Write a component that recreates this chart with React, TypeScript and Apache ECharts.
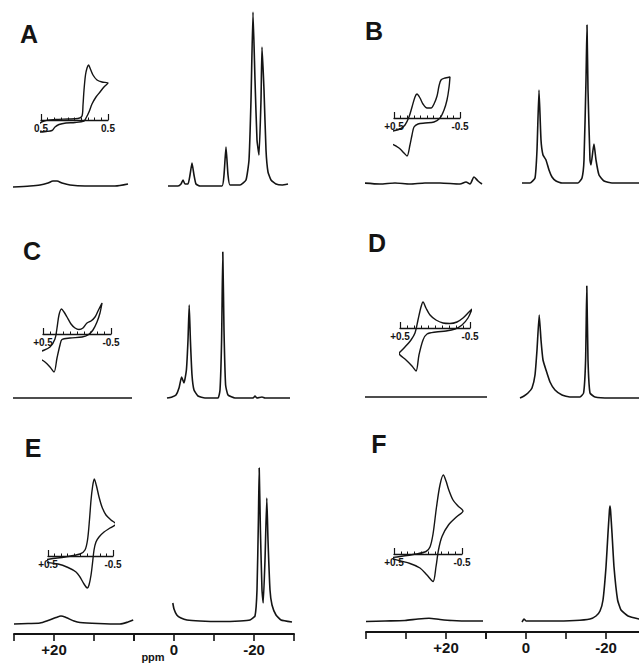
import React, { useEffect, useRef } from "react";
import * as echarts from "echarts";

const FONT = '"Liberation Sans", Arial, Helvetica, sans-serif';
const INK = "#141414";

// ---- 1H NMR spectra: [ppm, intensity (arb.)] ----
// left (downfield) segments
const specA_left = [[30.5, -1], [26, 0], [23.5, 1], [21.5, 3], [20.25, 5], [19.25, 5], [18, 3], [16, 1], [12.25, 0], [8.5, 0], [4.75, 0], [1.5, 2]];
const specB_left = [[40.75, 0], [36.5, -1], [32.75, 0], [29, -1], [25.25, 0], [21.5, 0], [16.5, -1], [15, 1], [14, -1], [13, 6], [12, 2], [11, -1]];
const specC_left = [[30.5, 0], [20, 0], [10, 0], [0.5, 0]];
const specD_left = [[40.75, 1], [31.5, 1], [21.5, 1], [9.75, 1]];
const specE_left = [[30, -2], [26.5, -1.5], [23.5, -1], [21.5, 1.5], [19.5, 4.5], [18.25, 6], [17, 4.5], [15, 1], [13.5, -0.5], [9, -1.5], [3.5, -2], [1.5, 0], [0.2, 2]];
const specF_left = [[40, -0.5], [35.25, 0], [30.25, 0.5], [27, 2], [24.25, 2.7], [21.5, 1.5], [18.5, 0.5], [14, 0], [10.75, 0]];

// right (upfield) segments
const specA_right = [[1.5, 0], [-1, 0], [-1.75, 2], [-2.25, 6], [-2.75, 2], [-3.5, 2], [-4, 11], [-4.5, 23], [-5, 11], [-5.5, 2], [-6.5, 0], [-12, 0], [-12.5, 11], [-13, 39], [-13.5, 11], [-14, 1], [-16.5, 1], [-18, 6], [-18.75, 26], [-19.25, 86], [-19.75, 174], [-20.25, 106], [-20.75, 46], [-21.25, 31], [-21.75, 86], [-22, 139], [-22.5, 96], [-23, 36], [-23.5, 14], [-24.25, 6], [-25.5, 2], [-27, 1], [-28.5, 2]];
const specB_right = [[1, 0], [-1, 0], [-2.25, 5], [-2.75, 33], [-3.25, 93], [-3.75, 43], [-4.25, 28], [-5, 23], [-5.75, 13], [-6.5, 6], [-7.5, 2], [-9, 0], [-13, 0], [-14, 5], [-14.5, 23], [-15, 103], [-15.25, 158], [-15.5, 93], [-16, 23], [-16.25, 18], [-16.75, 33], [-17, 39], [-17.5, 23], [-18.25, 8], [-19.5, 2], [-21.5, 0], [-30, 0]];
const specC_right = [[1.75, 0], [0.5, 1], [-0.5, 3], [-1.25, 10], [-1.9, 21], [-2.5, 15], [-3.1, 28], [-3.5, 58], [-3.8, 93], [-4.1, 58], [-4.5, 23], [-5, 8], [-6, 2], [-7.75, 0], [-11, 0], [-11.5, 8], [-11.9, 58], [-12.2, 146], [-12.5, 68], [-12.9, 13], [-13.5, 3], [-15.25, 0], [-19.75, 0], [-20.25, 2], [-20.75, 0], [-22, 1], [-22.75, 0], [-29, 0]];
const specD_right = [[1.5, 0], [0.5, 2], [-0.5, 5], [-1.5, 10], [-2.25, 23], [-2.75, 48], [-3.3, 83], [-3.75, 58], [-4.25, 38], [-5, 28], [-6, 16], [-7.25, 8], [-9, 3], [-11, 1], [-13.5, 1], [-14.4, 5], [-14.9, 38], [-15.2, 112], [-15.5, 38], [-16, 5], [-17.25, 1], [-21, 0], [-30, 0]];
const specE_right = [[0.3, 19], [0, 13], [-0.7, 7], [-1.75, 4], [-3.25, 2], [-6.5, 1], [-11.5, 0.5], [-16.5, 1], [-19, 2], [-20.25, 6], [-20.75, 32], [-21.1, 102], [-21.3, 154], [-21.6, 92], [-22, 32], [-22.3, 19], [-22.75, 62], [-23.2, 124], [-23.5, 82], [-24, 32], [-24.5, 17], [-25.5, 7], [-26.75, 2], [-29.5, 0]];
const specF_right = [[1, -1], [0.5, 2], [0, 0], [-6, 0], [-12.25, 0.5], [-16, 2], [-17.5, 5], [-18.5, 10], [-19.25, 21], [-20, 54], [-20.5, 88], [-20.85, 110], [-21, 115], [-21.15, 110], [-21.5, 88], [-22, 54], [-22.9, 21], [-23.75, 11], [-25.5, 5], [-28.25, 2], [-30, 1]];

// ---- cyclic voltammograms (inset): [E (V), current (arb.)] ----
const cvA = [[0.575, -1.2], [0.545, -0.5], [0.455, -0.1], [0.291, 0.05], [0.097, 0.1], [-0.052, 0.15], [-0.112, 0.4], [-0.127, 1.5], [-0.142, 3.0], [-0.164, 4.5], [-0.187, 5.2], [-0.209, 5.5], [-0.231, 5.2], [-0.276, 4.5], [-0.336, 4.0], [-0.41, 3.8], [-0.5, 3.7], [-0.44, 3.3], [-0.381, 2.8], [-0.321, 2.3], [-0.261, 1.6], [-0.216, 0.8], [-0.172, 0.2], [-0.142, -0.1], [-0.007, -0.25], [0.127, -0.3], [0.231, -0.45], [0.291, -0.7], [0.336, -1.05], [0.425, -1.15], [0.515, -1.2], [0.575, -1.2]];
const cvB = [[0.636, -1.5], [0.515, -1.3], [0.409, -1.1], [0.333, -0.7], [0.273, 0.1], [0.227, 1.1], [0.182, 2.1], [0.152, 2.4], [0.106, 2.0], [0.061, 1.4], [0, 1.0], [-0.061, 1.0], [-0.106, 1.4], [-0.152, 2.2], [-0.182, 3.2], [-0.212, 3.8], [-0.273, 4.0], [-0.348, 4.1], [-0.333, 3.0], [-0.303, 1.8], [-0.258, 0.8], [-0.197, 0], [-0.106, -0.4], [0.03, -0.5], [0.136, -0.6], [0.197, -0.9], [0.227, -1.7], [0.258, -2.7], [0.303, -3.8], [0.348, -3.5], [0.424, -3.0], [0.53, -2.6], [0.621, -2.5], [0.636, -2.0], [0.636, -1.5]];
const cvC = [[0.662, -2.3], [0.544, -1.8], [0.397, -1.3], [0.324, -0.5], [0.294, 0.6], [0.265, 1.9], [0.228, 2.5], [0.191, 2.2], [0.147, 1.7], [0.088, 1.0], [0.029, 0.6], [-0.029, 0.45], [-0.088, 0.6], [-0.147, 1.1], [-0.206, 1.3], [-0.265, 1.7], [-0.309, 2.3], [-0.368, 3.1], [-0.338, 2.1], [-0.294, 1.2], [-0.235, 0.4], [-0.162, -0.1], [-0.074, -0.3], [0.103, -0.4], [0.221, -0.55], [0.25, -1.1], [0.294, -2.4], [0.338, -3.8], [0.397, -3.3], [0.471, -2.8], [0.574, -2.4], [0.662, -2.3]];
const cvD = [[0.514, -2.5], [0.429, -1.9], [0.343, -1.2], [0.286, -0.5], [0.243, 0.8], [0.2, 2.1], [0.171, 2.6], [0.129, 2.0], [0.071, 1.3], [-0.014, 0.8], [-0.114, 0.5], [-0.214, 0.45], [-0.314, 0.6], [-0.4, 1.0], [-0.471, 1.5], [-0.529, 1.9], [-0.471, 1.0], [-0.386, 0.3], [-0.286, -0.1], [-0.157, -0.3], [-0.014, -0.4], [0.114, -0.6], [0.171, -1.2], [0.229, -2.7], [0.271, -4.3], [0.329, -3.8], [0.414, -3.2], [0.5, -2.7], [0.514, -2.5]];
const cvE = [[0.7, -0.6], [0.469, -0.3], [0.238, -0.1], [0.008, 0.2], [-0.069, 0.6], [-0.108, 1.6], [-0.138, 3.6], [-0.162, 5.6], [-0.185, 6.9], [-0.212, 7.7], [-0.246, 7.0], [-0.285, 5.9], [-0.331, 4.9], [-0.392, 4.1], [-0.469, 3.6], [-0.546, 3.2], [-0.454, 2.8], [-0.362, 2.4], [-0.285, 1.9], [-0.238, 1.4], [-0.208, 0.6], [-0.185, -0.7], [-0.162, -1.9], [-0.131, -2.9], [-0.105, -3.2], [-0.054, -2.8], [0.008, -2.1], [0.069, -1.6], [0.192, -1.15], [0.346, -0.8], [0.546, -0.65], [0.7, -0.6]];
const cvF = [[0.603, -0.4], [0.412, -0.25], [0.176, 0], [0.029, 0.25], [-0.029, 0.7], [-0.074, 2.0], [-0.125, 4.7], [-0.176, 6.9], [-0.225, 7.9], [-0.265, 7.3], [-0.301, 6.5], [-0.368, 5.4], [-0.441, 4.8], [-0.515, 4.3], [-0.426, 3.75], [-0.301, 2.9], [-0.206, 1.75], [-0.154, 0.4], [-0.118, -1.25], [-0.074, -2.75], [0.015, -2.1], [0.118, -1.4], [0.265, -0.95], [0.485, -0.55], [0.603, -0.4]];

// ---- labels ----
const panelNames = ["A", "B", "C", "D", "E", "F"];
const cvEndLabels = [["0.5", "0.5"], ["+0.5", "-0.5"], ["+0.5", "-0.5"], ["+0.5", "-0.5"], ["+0.5", "-0.5"], ["+0.5", "-0.5"]];
const ppmLeftLabels: Record<string, string> = { "20": "+20" };
const ppmRightLabels: Record<string, string> = { "0": "0", "-20": "-20" };
const ppmUnit = "ppm";
const leftRanges = [[0, 30], [10, 40]];
const rightRange = [-30, 10];

const spectraLeft = [specA_left, specB_left, specC_left, specD_left, specE_left, specF_left];
const spectraRight = [specA_right, specB_right, specC_right, specD_right, specE_right, specF_right];
const cvs = [cvA, cvB, cvC, cvD, cvE, cvF];

// ---- layout (pixels) ----
const COLS = [
  { x0: 14, axisY: 634 },
  { x0: 366, axisY: 632 },
];
const SEG_L_W = 120;
const SEG_R_W = 160;
const SPEC_H = 180;
const PANELS = [
  { col: 0, base: 186, label: [29, 34], cv: { x0: 41, x1: 108, y0: 120 } },
  { col: 1, base: 183, label: [374, 31], cv: { x0: 394, x1: 460, y0: 118 } },
  { col: 0, base: 398, label: [32, 251], cv: { x0: 43, x1: 111, y0: 334 } },
  { col: 1, base: 398, label: [377, 243], cv: { x0: 400, x1: 470, y0: 328 } },
  { col: 0, base: 622, label: [33, 448], cv: { x0: 48, x1: 113, y0: 556 } },
  { col: 1, base: 621, label: [379, 444], cv: { x0: 394, x1: 462, y0: 554 } },
];

function near(a: number, b: number) {
  return Math.abs(a - b) < 1e-6;
}

function buildOption() {
  const grid: any[] = [];
  const xAxis: any[] = [];
  const yAxis: any[] = [];
  const series: any[] = [];
  const graphic: any[] = [];

  const addGrid = (g: any, xs: any[], y: any) => {
    const gi = grid.length;
    grid.push({ ...g, containLabel: false, outerBoundsMode: "none", show: false });
    const xi = xAxis.length;
    xs.forEach((x) => xAxis.push({ ...x, gridIndex: gi }));
    yAxis.push({ ...y, gridIndex: gi });
    return { xi, yi: yAxis.length - 1 };
  };

  const hiddenX = (range: number[]) => ({
    type: "value",
    show: false,
    min: range[0],
    max: range[1],
    inverse: true,
    splitLine: { show: false },
  });
  const hiddenY = (min: number, max: number) => ({
    type: "value",
    show: false,
    min,
    max,
    splitLine: { show: false },
  });
  const line = (xi: number, yi: number, data: number[][], width: number, smooth: number) => ({
    type: "line",
    xAxisIndex: xi,
    yAxisIndex: yi,
    data,
    symbol: "none",
    showSymbol: false,
    smooth,
    clip: false,
    silent: true,
    lineStyle: { color: INK, width },
  });

  PANELS.forEach((p, i) => {
    const col = COLS[p.col];
    // left spectrum segment
    const gl = addGrid(
      { left: col.x0, top: p.base - SPEC_H, width: SEG_L_W, height: SPEC_H },
      [hiddenX(leftRanges[p.col])],
      hiddenY(0, SPEC_H)
    );
    series.push(line(gl.xi, gl.yi, spectraLeft[i], 1.6, 0.25));
    // right spectrum segment
    const gr = addGrid(
      { left: col.x0 + SEG_L_W, top: p.base - SPEC_H, width: SEG_R_W, height: SPEC_H },
      [hiddenX(rightRange)],
      hiddenY(0, SPEC_H)
    );
    series.push(line(gr.xi, gr.yi, spectraRight[i], 1.6, 0.15));

    // CV inset
    const lbl = cvEndLabels[i];
    const gc = addGrid(
      { left: p.cv.x0, top: p.cv.y0 - 100, width: p.cv.x1 - p.cv.x0, height: 100 },
      [
        {
          type: "value",
          position: "bottom",
          min: -0.5,
          max: 0.5,
          inverse: true,
          interval: 0.1,
          axisLine: { show: true, onZero: false, lineStyle: { color: INK, width: 1.3 } },
          axisTick: { show: true, inside: true, length: 2.5, lineStyle: { color: INK, width: 1 } },
          axisLabel: {
            show: true,
            showMinLabel: true,
            showMaxLabel: true,
            margin: 3,
            fontSize: 10,
            fontWeight: "bold",
            fontFamily: FONT,
            color: INK,
            formatter: (v: number) => (near(v, 0.5) ? lbl[0] : near(v, -0.5) ? lbl[1] : ""),
          },
          splitLine: { show: false },
        },
        {
          type: "value",
          position: "bottom",
          min: -0.5,
          max: 0.5,
          inverse: true,
          interval: 1,
          axisLine: { show: false, onZero: false },
          axisTick: { show: true, inside: true, length: 6, lineStyle: { color: INK, width: 1.2 } },
          axisLabel: { show: false },
          splitLine: { show: false },
        },
      ],
      hiddenY(0, 10)
    );
    series.push(line(gc.xi, gc.yi, cvs[i], 1.4, 0.3));

    graphic.push({
      type: "text",
      x: p.label[0],
      y: p.label[1],
      style: {
        text: panelNames[i],
        fill: INK,
        font: `bold 25px ${FONT}`,
        textAlign: "center",
        textVerticalAlign: "middle",
        align: "center",
        verticalAlign: "middle",
      },
    });
  });

  // bottom ppm axes
  const ppmAxis = (range: number[], labels: Record<string, string>) => ({
    type: "value",
    position: "bottom",
    min: range[0],
    max: range[1],
    inverse: true,
    interval: 10,
    axisLine: { show: true, onZero: false, lineStyle: { color: INK, width: 2 } },
    axisTick: { show: true, length: 7, lineStyle: { color: INK, width: 1.6 } },
    axisLabel: {
      show: true,
      margin: 8,
      fontSize: 15,
      fontWeight: "bold",
      fontFamily: FONT,
      color: INK,
      formatter: (v: number) => labels[String(Math.round(v))] ?? "",
    },
    splitLine: { show: false },
  });
  COLS.forEach((c, ci) => {
    addGrid({ left: c.x0, top: c.axisY - 10, width: SEG_L_W, height: 10 }, [ppmAxis(leftRanges[ci], ppmLeftLabels)], hiddenY(0, 1));
    addGrid({ left: c.x0 + SEG_L_W, top: c.axisY - 10, width: SEG_R_W, height: 10 }, [ppmAxis(rightRange, ppmRightLabels)], hiddenY(0, 1));
  });

  graphic.push({
    type: "text",
    x: 153,
    y: 657,
    style: {
      text: ppmUnit,
      fill: INK,
      font: `bold 11px ${FONT}`,
      textAlign: "center",
      textVerticalAlign: "middle",
      align: "center",
      verticalAlign: "middle",
    },
  });

  return {
    animation: false,
    backgroundColor: "#ffffff",
    grid,
    xAxis,
    yAxis,
    series,
    graphic,
  };
}

export default function App() {
  const ref = useRef<HTMLDivElement>(null);
  useEffect(() => {
    if (!ref.current) return;
    const chart = echarts.init(ref.current, null, { renderer: "svg", width: 639, height: 663 });
    chart.setOption(buildOption());
    return () => chart.dispose();
  }, []);
  return (
    <div
      ref={ref}
      style={{ position: "absolute", left: 0, top: 0, width: 639, height: 663, background: "#ffffff", overflow: "hidden" }}
    />
  );
}
